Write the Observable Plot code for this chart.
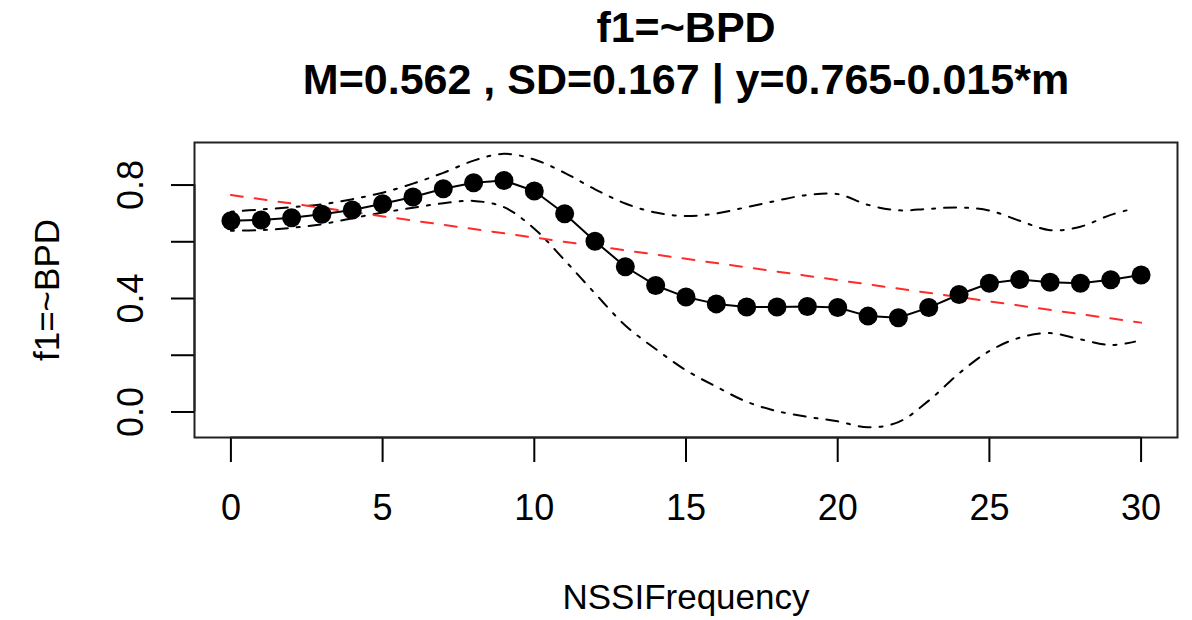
<!DOCTYPE html>
<html>
<head>
<meta charset="utf-8">
<script src="https://cdn.jsdelivr.net/npm/d3@7"></script>
<script src="https://cdn.jsdelivr.net/npm/@observablehq/plot@0.6"></script>
<style>
  html, body { margin: 0; padding: 0; background: #fff; }
  #chart svg { display: block; }
</style>
</head>
<body>
<div id="chart"></div>
<script>
// ---- data ----
const titleLine1 = "f1=~BPD";
const titleLine2 = "M=0.562 , SD=0.167 | y=0.765-0.015*m";
const xLabel = "NSSIFrequency";
const yLabel = "f1=~BPD";

const freq = [0,1,2,3,4,5,6,7,8,9,10,11,12,13,14,15,16,17,18,19,20,21,22,23,24,25,26,27,28,29,30];
const bpd  = [0.674,0.677,0.685,0.697,0.712,0.734,0.758,0.787,0.808,0.816,0.779,0.699,0.602,0.512,0.446,0.405,0.381,0.370,0.370,0.372,0.368,0.338,0.332,0.368,0.414,0.454,0.467,0.457,0.454,0.466,0.483];

const bandX = [0,1,2,3,4,5,6,7,8,9,10,11,12,13,14,15,16,17,18,19,20,21,22,23,24,25,26,27,28,29,29.8];
const upper = [0.706,0.714,0.722,0.732,0.750,0.773,0.805,0.843,0.886,0.910,0.890,0.843,0.785,0.735,0.703,0.691,0.700,0.722,0.745,0.765,0.768,0.730,0.711,0.716,0.721,0.710,0.674,0.641,0.653,0.695,0.718];
const lower = [0.639,0.641,0.649,0.662,0.683,0.703,0.720,0.736,0.744,0.722,0.646,0.535,0.418,0.305,0.222,0.147,0.089,0.036,0.003,-0.017,-0.033,-0.054,-0.036,0.040,0.136,0.215,0.262,0.278,0.256,0.236,0.248];

const fitX = [0, 30];
const fitY = [0.765, 0.315];

const xTicks = [0,5,10,15,20,25,30];
const yTicks = [0,0.2,0.4,0.6,0.8];
const yTickLabels = ["0.0","0.4","0.8"];

// ---- tables for the library ----
const pts = freq.map((x, i) => ({x, y: bpd[i]}));
const up = bandX.map((x, i) => ({x, y: upper[i]}));
const lo = bandX.map((x, i) => ({x, y: lower[i]}));
const fit = fitX.map((x, i) => ({x, y: fitY[i]}));
const yLab = yTickLabels.map(s => ({v: +s, s}));

const font = "'Liberation Sans', Arial, Helvetica, sans-serif";

const chart = Plot.plot({
  width: 1192,
  height: 620,
  marginLeft: 194,
  marginRight: 15,
  marginTop: 142,
  marginBottom: 183,
  x: {domain: [-1.2, 31.2]},
  y: {domain: [-0.09, 0.95]},
  style: {fontFamily: font, background: "#fff", color: "#000"},
  marks: [
    Plot.frame({stroke: "#222", strokeWidth: 2}),
    // x axis
    Plot.axisX({ticks: xTicks, tickSize: 25, tickPadding: 32, fontSize: 36, label: null, strokeWidth: 2, tickFormat: d => String(d)}),
    Plot.ruleY([-0.09], {x1: 0, x2: 30, stroke: "#222", strokeWidth: 2}),
    // y axis ticks
    Plot.axisY({ticks: yTicks, tickSize: 23, label: null, strokeWidth: 2, tickFormat: () => ""}),
    Plot.ruleX([-1.2], {y1: 0, y2: 0.8, stroke: "#222", strokeWidth: 2}),
    Plot.text(yLab, {y: "v", text: "s", frameAnchor: "left", dx: -52, rotate: -90, textAnchor: "middle", lineAnchor: "bottom", fontSize: 36}),
    // bands
    Plot.line(up, {x: "x", y: "y", curve: "catmull-rom", stroke: "#000", strokeWidth: 2, strokeDasharray: "3,9,12,9"}),
    Plot.line(lo, {x: "x", y: "y", curve: "catmull-rom", stroke: "#000", strokeWidth: 2, strokeDasharray: "3,9,12,9"}),
    // regression
    Plot.line(fit, {x: "x", y: "y", stroke: "#ff2a2a", strokeWidth: 2, strokeDasharray: "12,12"}),
    // main series
    Plot.line(pts, {x: "x", y: "y", stroke: "#000", strokeWidth: 2}),
    Plot.dot(pts, {x: "x", y: "y", r: 9.5, fill: "#000", stroke: "none"}),
    // titles and labels
    Plot.text([titleLine1], {frameAnchor: "top", dy: -101, lineAnchor: "bottom", fontSize: 43, fontWeight: "bold"}),
    Plot.text([titleLine2], {frameAnchor: "top", dy: -49, lineAnchor: "bottom", fontSize: 43, fontWeight: "bold"}),
    Plot.text([xLabel], {frameAnchor: "bottom", dy: 171, lineAnchor: "bottom", fontSize: 35}),
    Plot.text([yLabel], {frameAnchor: "left", dx: -136, rotate: -90, textAnchor: "middle", lineAnchor: "bottom", fontSize: 35})
  ]
});
document.getElementById("chart").appendChild(chart);
</script>
</body>
</html>
